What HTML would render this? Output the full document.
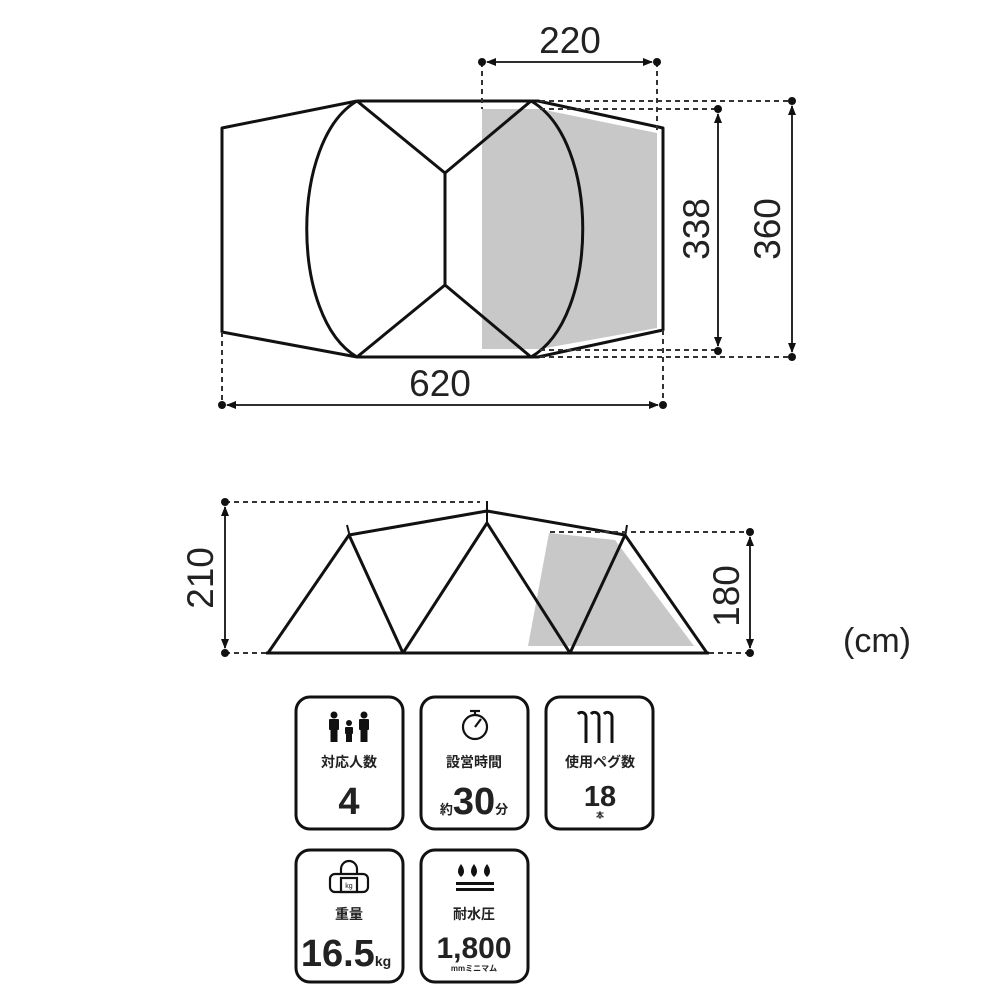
<!DOCTYPE html>
<html><head><meta charset="utf-8"><style>
html,body{margin:0;padding:0;background:#fff;}
svg text{font-family:"Liberation Sans","Noto Sans CJK JP",sans-serif;}
</style></head><body>
<svg width="1000" height="1000" viewBox="0 0 1000 1000" xmlns="http://www.w3.org/2000/svg">
<defs>
<marker id="ar" markerWidth="10" markerHeight="10" refX="9" refY="5" orient="auto-start-reverse" markerUnits="userSpaceOnUse"><path d="M0,1 L10,5 L0,9 Z" fill="#111"/></marker>
</defs>
<!-- TOP PLAN -->
<polygon points="482,109 540,109 657,133 657,328 540,349 482,349" fill="#c8c8c8"/>
<g fill="none" stroke="#111" stroke-width="3" stroke-linejoin="round">
<polyline points="357,101 222,128 222,332 357,357 538,357 663,330 663,128 538,101 357,101"/>
<path d="M357,101 C290,140 290,318 357,357"/>
<path d="M531,101 C600,140 600,318 531,357"/>
<polyline points="357,101 445,173 531,101"/>
<polyline points="357,357 445,285 531,357"/>
<line x1="445" y1="173" x2="445" y2="285"/>
</g>
<g stroke="#333" stroke-width="2" stroke-dasharray="5,4" fill="none">
<line x1="482" y1="62" x2="482" y2="109"/>
<line x1="657" y1="62" x2="657" y2="133"/>
<line x1="540" y1="101" x2="792" y2="101"/>
<line x1="540" y1="109" x2="718" y2="109"/>
<line x1="540" y1="350" x2="718" y2="350"/>
<line x1="540" y1="357" x2="792" y2="357"/>
<line x1="222" y1="332" x2="222" y2="405"/>
<line x1="663" y1="330" x2="663" y2="405"/>
</g>
<g stroke="#111" stroke-width="1.8" fill="none">
<line x1="487" y1="62" x2="652" y2="62" marker-start="url(#ar)" marker-end="url(#ar)"/>
<line x1="718" y1="114" x2="718" y2="346" marker-start="url(#ar)" marker-end="url(#ar)"/>
<line x1="792" y1="106" x2="792" y2="352" marker-start="url(#ar)" marker-end="url(#ar)"/>
<line x1="227" y1="405" x2="658" y2="405" marker-start="url(#ar)" marker-end="url(#ar)"/>
</g>
<g fill="#111">
<circle cx="482" cy="62" r="4"/><circle cx="657" cy="62" r="4"/>
<circle cx="718" cy="109" r="4"/><circle cx="718" cy="351" r="4"/>
<circle cx="792" cy="101" r="4"/><circle cx="792" cy="357" r="4"/>
<circle cx="222" cy="405" r="4"/><circle cx="663" cy="405" r="4"/>
</g>
<g fill="#222" font-size="37">
<text x="570" y="53" text-anchor="middle">220</text>
<text x="440" y="396" text-anchor="middle">620</text>
<text transform="translate(709,229) rotate(-90)" text-anchor="middle">338</text>
<text transform="translate(780,229) rotate(-90)" text-anchor="middle">360</text>
</g>
<!-- SIDE VIEW -->
<polygon points="549,533 615,540 694,646 528,646" fill="#c8c8c8"/>
<g fill="none" stroke="#111" stroke-width="3" stroke-linejoin="round">
<line x1="266" y1="653" x2="709" y2="653"/>
<polyline points="268,653 349,535 403,653 487,523 570,653 625,535 707,653"/>
<polyline points="349,535 487,511 625,535"/>
<line x1="487" y1="501" x2="487" y2="524" stroke-width="2"/>
<line x1="347" y1="525" x2="350" y2="537" stroke-width="2"/>
<line x1="627" y1="525" x2="625" y2="537" stroke-width="2"/>
</g>
<g stroke="#333" stroke-width="2" stroke-dasharray="5,4" fill="none">
<line x1="225" y1="502" x2="480" y2="502"/>
<line x1="550" y1="532" x2="750" y2="532"/>
<line x1="225" y1="653" x2="266" y2="653"/>
<line x1="709" y1="653" x2="750" y2="653"/>
</g>
<g stroke="#111" stroke-width="1.8" fill="none">
<line x1="225" y1="507" x2="225" y2="648" marker-start="url(#ar)" marker-end="url(#ar)"/>
<line x1="750" y1="537" x2="750" y2="648" marker-start="url(#ar)" marker-end="url(#ar)"/>
</g>
<g fill="#111">
<circle cx="225" cy="502" r="4"/><circle cx="225" cy="653" r="4"/>
<circle cx="750" cy="532" r="4"/><circle cx="750" cy="653" r="4"/>
</g>
<g fill="#222" font-size="37">
<text transform="translate(213,578) rotate(-90)" text-anchor="middle">210</text>
<text transform="translate(739,596) rotate(-90)" text-anchor="middle">180</text>
<text x="877" y="652" text-anchor="middle" font-size="34">(cm)</text>
</g>
<!-- ICON BOXES -->
<g fill="none" stroke="#111" stroke-width="3">
<rect x="296" y="697" width="107" height="132" rx="14"/>
<rect x="421" y="697" width="107" height="132" rx="14"/>
<rect x="546" y="697" width="107" height="132" rx="14"/>
<rect x="296" y="850" width="107" height="132" rx="14"/>
<rect x="421" y="850" width="107" height="132" rx="14"/>
</g>
<g fill="#111">
<circle cx="334" cy="715" r="3.5"/><rect x="329" y="719" width="10" height="11" rx="1"/><rect x="330.5" y="729" width="7" height="13"/>
<circle cx="349" cy="723" r="3"/><rect x="345" y="727" width="8" height="7" rx="1"/><rect x="346" y="733" width="6" height="9"/>
<circle cx="364" cy="715" r="3.5"/><rect x="359" y="719" width="10" height="11" rx="1"/><rect x="360.5" y="729" width="7" height="13"/>
</g>
<g fill="none" stroke="#111" stroke-width="2.2">
<circle cx="475" cy="727" r="12"/><line x1="470" y1="711" x2="480" y2="711"/><line x1="475" y1="711" x2="475" y2="715"/><line x1="475" y1="727" x2="481" y2="719"/>
</g>
<g fill="none" stroke="#111" stroke-width="3">
<path d="M586,743 V717 a4.5,4.5 0 0 0 -8,-3"/><path d="M599,743 V717 a4.5,4.5 0 0 0 -8,-3"/><path d="M612,743 V717 a4.5,4.5 0 0 0 -8,-3"/>
</g>
<g fill="none" stroke="#111" stroke-width="2.2">
<path d="M341,874 v-5 a8,8 0 0 1 16,0 v5"/><rect x="330" y="874" width="38" height="18" rx="5"/><rect x="341" y="878" width="16" height="14"/>
</g>
<text x="349" y="888" font-size="7" text-anchor="middle" fill="#111">kg</text>
<g fill="#111">
<path d="M461,864 q6,8 0,13 q-6,-5 0,-13z"/>
<path d="M474,864 q6,8 0,13 q-6,-5 0,-13z"/>
<path d="M487,864 q6,8 0,13 q-6,-5 0,-13z"/>
<rect x="456" y="882" width="38" height="3"/><rect x="456" y="888" width="38" height="3"/>
</g>
<g fill="#222" font-weight="bold" text-anchor="middle">
<text x="349" y="767" font-size="14">対応人数</text>
<text x="349" y="814" font-size="38">4</text>
<text x="474" y="767" font-size="14">設営時間</text>
<text x="474" y="814"><tspan font-size="13">約</tspan><tspan font-size="38">30</tspan><tspan font-size="13">分</tspan></text>
<text x="600" y="767" font-size="14">使用ペグ数</text>
<text x="600" y="806" font-size="29">18</text>
<text x="600" y="818" font-size="8">本</text>
<text x="349" y="919" font-size="14">重量</text>
<text x="346" y="966"><tspan font-size="38">16.5</tspan><tspan font-size="14">kg</tspan></text>
<text x="474" y="919" font-size="14">耐水圧</text>
<text x="474" y="958" font-size="30">1,800</text>
<text x="474" y="971" font-size="8">mmミニマム</text>
</g>
</svg>
</body></html>
